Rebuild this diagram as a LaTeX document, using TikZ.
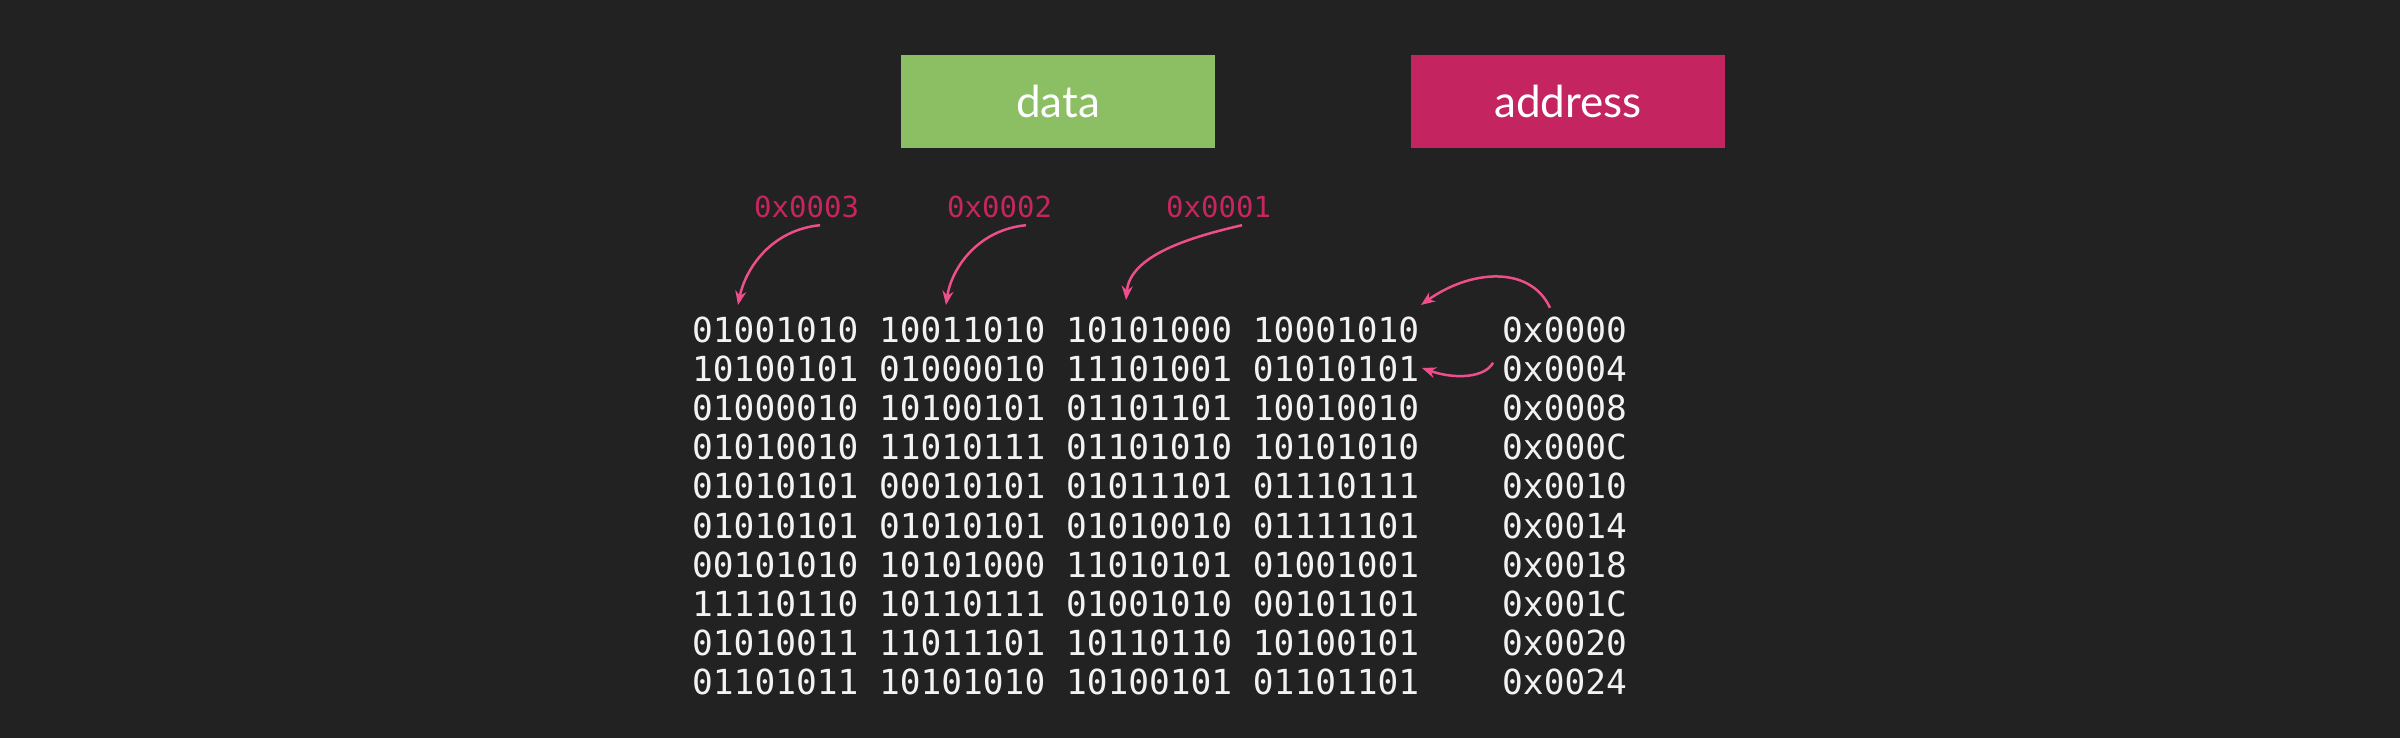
\documentclass[tikz,border=0pt]{standalone}
\usepackage{fontspec}
\usetikzlibrary{arrows.meta}
\newfontfamily\monofnt{DejaVu Sans Mono}
\newfontfamily\boxfnt{Lato}
\definecolor{bg}{HTML}{222222}
\definecolor{datagreen}{HTML}{8CBF64}
\definecolor{addrmag}{HTML}{C42560}
\definecolor{lblmag}{HTML}{C7255F}
\definecolor{arrowpink}{HTML}{EE4F8A}
\definecolor{txt}{HTML}{F2F2F2}
\tikzset{
  labelbox/.style={minimum width=314pt, minimum height=93pt, inner sep=0pt,
    text=white, font=\boxfnt\fontsize{44}{44}\selectfont},
  row/.style={anchor=base west, inner sep=0pt, text=txt,
    font=\monofnt\fontsize{34.5}{34.5}\selectfont, text height=25pt, text depth=0pt},
  addrlbl/.style={anchor=base west, inner sep=0pt, text=lblmag,
    font=\monofnt\fontsize{29}{29}\selectfont, text height=21pt, text depth=0pt},
  ptr/.style={draw=arrowpink, line width=2.5pt, -{Stealth[length=14pt,width=11pt]}}
}
\begin{document}
\begin{tikzpicture}[x=1pt,y=-1pt]
\fill[bg] (0,0) rectangle (2400,738);
\useasboundingbox (0,0) rectangle (2400,738);
\node[labelbox, fill=datagreen] (databox) at (1058,101.5) {data};
\node[labelbox, fill=addrmag] (addrbox) at (1568,101.5) {address};
% data rows
\node[row] (d1) at (692,342.0) {01001010 10011010 10101000 10001010};
\node[row] (d2) at (692,381.2) {10100101 01000010 11101001 01010101};
\node[row] (d3) at (692,420.4) {01000010 10100101 01101101 10010010};
\node[row] (d4) at (692,459.6) {01010010 11010111 01101010 10101010};
\node[row] (d5) at (692,498.8) {01010101 00010101 01011101 01110111};
\node[row] (d6) at (692,538.0) {01010101 01010101 01010010 01111101};
\node[row] (d7) at (692,577.2) {00101010 10101000 11010101 01001001};
\node[row] (d8) at (692,616.4) {11110110 10110111 01001010 00101101};
\node[row] (d9) at (692,655.6) {01010011 11011101 10110110 10100101};
\node[row] (d10) at (692,694.8) {01101011 10101010 10100101 01101101};
% addresses
\node[row] (a1) at (1502,342.0) {0x0000};
\node[row] (a2) at (1502,381.2) {0x0004};
\node[row] (a3) at (1502,420.4) {0x0008};
\node[row] (a4) at (1502,459.6) {0x000C};
\node[row] (a5) at (1502,498.8) {0x0010};
\node[row] (a6) at (1502,538.0) {0x0014};
\node[row] (a7) at (1502,577.2) {0x0018};
\node[row] (a8) at (1502,616.4) {0x001C};
\node[row] (a9) at (1502,655.6) {0x0020};
\node[row] (a10) at (1502,694.8) {0x0024};
% byte address labels
\node[addrlbl] (l3) at (754,218) {0x0003};
\node[addrlbl] (l2) at (947,218) {0x0002};
\node[addrlbl] (l1) at (1166,218) {0x0001};
% arrow targets
\coordinate (t3) at (738,305);
\coordinate (t2) at (946,305);
\coordinate (t1) at (1126,300);
\coordinate (t0) at (1421,305);
\coordinate (t4) at (1422,368);
% arrows
\draw[ptr] ([xshift=66pt,yshift=-7pt]l3.south west) .. controls ([xshift=16pt,yshift=-12pt]l3.south west) and ([xshift=-9pt,yshift=-52pt]l3.south west) .. (t3);
\draw[ptr] ([xshift=79pt,yshift=-7pt]l2.south west) .. controls ([xshift=29pt,yshift=-12pt]l2.south west) and ([xshift=4pt,yshift=-52pt]l2.south west) .. (t2);
\draw[ptr] ([xshift=76pt,yshift=-7pt]l1.south west) .. controls ([xshift=24pt,yshift=-19pt]l1.south west) and ([xshift=-36pt,yshift=-37pt]l1.south west) .. (t1);
\draw[ptr] ([xshift=48pt,yshift=9pt]a1.north west) .. controls ([xshift=28pt,yshift=52pt]a1.north west) and ([xshift=-32pt,yshift=47pt]a1.north west) .. (t0);
\draw[ptr] ([xshift=-9pt,yshift=6pt]a2.west) .. controls ([xshift=-17pt,yshift=-9pt]a2.west) and ([xshift=-47pt,yshift=-11pt]a2.west) .. (t4);
\end{tikzpicture}
\end{document}
